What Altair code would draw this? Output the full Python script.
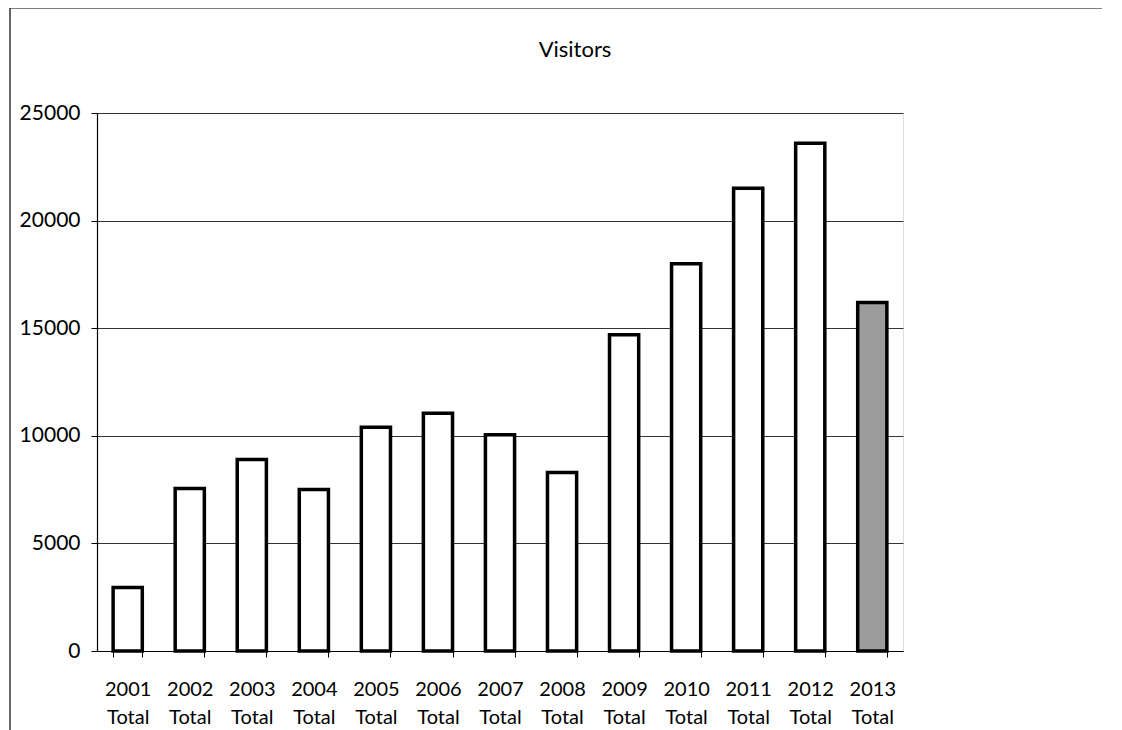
import altair as alt
import pandas as pd

years = ["2001", "2002", "2003", "2004", "2005", "2006", "2007",
         "2008", "2009", "2010", "2011", "2012", "2013"]
categories = [y + " Total" for y in years]
visitors = [2950, 7550, 8900, 7500, 10400, 11050, 10050,
            8300, 14700, 18000, 21500, 23600, 16200]
fills = ["#ffffff"] * 12 + ["#9c9c9c"]
chart_title = "Visitors"

df = pd.DataFrame({"cat": categories, "visitors": visitors, "fill": fills})

FONT = "Lato"

bars = alt.Chart(df).mark_bar(
    stroke="black", strokeWidth=3.5, strokeJoin="miter"
).encode(
    x=alt.X("cat:N", sort=categories, title=None,
            scale=alt.Scale(paddingInner=0.53, paddingOuter=0.26),
            axis=alt.Axis(labelAngle=0, labelExpr="split(datum.label, ' ')",
                          labelLineHeight=28, labelPadding=22, tickBand="extent",
                          tickSize=6, tickColor="black", domainColor="black",
                          domainWidth=1.2, labelFontSize=20, labelFont=FONT,
                          labelColor="black", grid=False)),
    y=alt.Y("visitors:Q", title=None,
            scale=alt.Scale(domain=[0, 25000], nice=False),
            axis=alt.Axis(values=[0, 5000, 10000, 15000, 20000, 25000],
                          format="d",
                          tickSize=6, tickColor="black", domainColor="black",
                          domainWidth=1.2, labelPadding=11, labelFontSize=21,
                          labelFont=FONT, labelColor="black",
                          gridColor="#333333", gridWidth=1)),
    fill=alt.Fill("fill:N", scale=None),
)

one = alt.Data(values=[{}])

border = alt.Chart(one).mark_rule(color="black", strokeWidth=1.2).encode(
    x=alt.value(-87), y=alt.value(-105), y2=alt.value(640)
)
border_top = alt.Chart(one).mark_rule(color="black", strokeWidth=1.2).encode(
    x=alt.value(-87), x2=alt.value(1005), y=alt.value(-105)
)
title = alt.Chart(one).mark_text(
    font=FONT, fontSize=22, color="black", align="center", baseline="alphabetic"
).encode(
    x=alt.value(478), y=alt.value(-56), text=alt.value(chart_title)
)

chart = alt.layer(bars, border, border_top, title).properties(
    width=806, height=538,
    autosize=alt.AutoSizeParams(type="none"),
    padding={"left": 89, "top": 105, "right": 200, "bottom": 110},
).configure_view(stroke=None).configure(background="white")

chart.save("out.html", embed_options={"renderer": "svg", "actions": False})
